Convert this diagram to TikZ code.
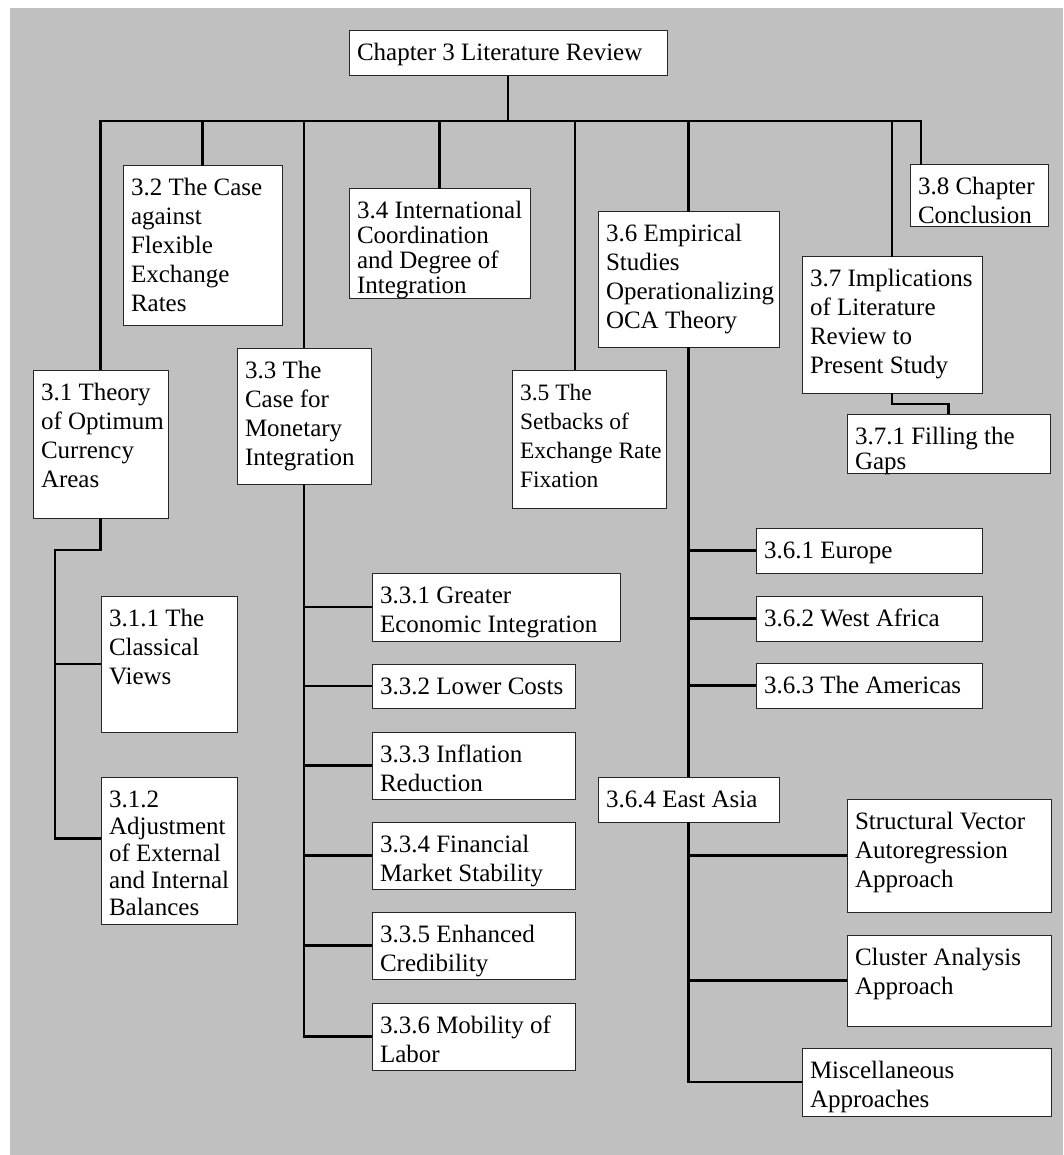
\documentclass[tikz,border=0pt]{standalone}
\usepackage{fontspec}
\setmainfont{Liberation Serif}
\definecolor{bggray}{HTML}{C0C0C0}
\tikzset{
  boxst/.style={draw=black!85, line width=1pt, fill=white, inner sep=0pt, outer sep=0pt,
    anchor=north west, font=\fontsize{25}{29}\selectfont},
  conn/.style={draw=black, line width=2.3pt, line join=miter}
}
\newcommand\bx[7][29]{\node[boxst] (#2) at (#3,#4) {\parbox[t][\dimexpr #6pt-#4pt\relax][t]{\dimexpr #5pt-#3pt\relax}{\fontsize{25}{#1}\selectfont\raggedright\leftskip=8pt\rightskip=-80pt plus 1fil\hyphenpenalty=10000\rule{0pt}{30pt}#7}};}
\begin{document}
\begin{tikzpicture}[x=1pt,y=-1pt]
\useasboundingbox (0,0) rectangle (1063,1155);
\fill[bggray] (10,8) rectangle (1063,1155);
% boxes
\bx{root}{349}{31}{667}{76}{Chapter 3 Literature Review}
\bx{b31}{33}{370}{168}{518}{3.1 Theory\\of Optimum\\Currency\\Areas}
\bx{b32}{123}{166}{282}{325}{3.2 The Case\\against\\Flexible\\Exchange\\Rates}
\bx{b33}{237}{348}{371}{484}{3.3 The\\Case for\\Monetary\\Integration}
\bx[25]{b34}{349}{189}{530}{298}{3.4 International\\Coordination\\and Degree of\\Integration}
\bx{b35}{512}{370}{666}{508}{\fontsize{23.5}{29}\selectfont 3.5 The\\Setbacks of\\Exchange Rate\\Fixation}
\bx{b36}{598}{212}{779}{347}{3.6 Empirical\\Studies\\Operationalizing\\OCA Theory}
\bx{b37}{802}{257}{982}{393}{3.7 Implications\\of Literature\\Review to\\Present Study}
\bx[25]{b371}{847}{414}{1050}{473}{3.7.1 Filling the\\Gaps}
\bx{b38}{910}{165}{1048}{227}{3.8 Chapter\\Conclusion}
\bx{b311}{101}{596}{237}{732}{3.1.1 The\\Classical\\Views}
\bx[27]{b312}{101}{777}{237}{924}{3.1.2\\Adjustment\\of External\\and Internal\\Balances}
\bx{b331}{372}{573}{620}{641}{3.3.1 Greater\\Economic Integration}
\bx{b332}{372}{664}{575}{708}{3.3.2 Lower Costs}
\bx{b333}{372}{732}{575}{799}{3.3.3 Inflation\\Reduction}
\bx{b334}{372}{822}{575}{889}{3.3.4 Financial\\Market Stability}
\bx{b335}{372}{912}{575}{979}{3.3.5 Enhanced\\Credibility}
\bx{b336}{372}{1003}{575}{1070}{3.3.6 Mobility of\\Labor}
\bx{b361}{756}{528}{982}{573}{3.6.1 Europe}
\bx{b362}{756}{596}{982}{641}{3.6.2 West Africa}
\bx{b363}{756}{663}{982}{708}{3.6.3 The Americas}
\bx{b364}{598}{777}{779}{822}{3.6.4 East Asia}
\bx{svar}{847}{799}{1051}{912}{Structural Vector\\Autoregression\\Approach}
\bx{clus}{847}{935}{1051}{1026}{Cluster Analysis\\Approach}
\bx{misc}{802}{1048}{1051}{1116}{Miscellaneous\\Approaches}
% coordinates
\coordinate (bus) at (508,121);
\coordinate (d35) at ([xshift=63pt]b35.north west);
\coordinate (d38) at ([xshift=11pt]b38.north west);
\coordinate (j31) at (55,550);
% top level connectors
\draw[conn] (root.south) -- (bus);
\draw[conn] (b31.north) |- (bus) -| (d38);
\foreach \n in {b32,b33,b34,b36,b37}{\draw[conn] (bus -| \n.north) -- (\n.north);}
\draw[conn] (bus -| d35) -- (d35);
% 3.1 subtree
\draw[conn] (b31.south) |- (j31) |- ([yshift=12pt]b312.west);
\draw[conn] (j31 |- b311.west) -- (b311.west);
% 3.3 subtree
\draw[conn] (b33.south) |- (b336.west);
\foreach \n in {b331,b332,b333,b334,b335}{\draw[conn] (\n.west -| b33.south) -- (\n.west);}
% 3.6 subtree
\draw[conn] (b36.south) -- (b364.north);
\foreach \n in {b361,b362,b363}{\draw[conn] (\n.west -| b36.south) -- (\n.west);}
\draw[conn] (b364.south) |- (misc.west);
\foreach \n in {svar,clus}{\draw[conn] (\n.west -| b364.south) -- (\n.west);}
% 3.7 subtree
\draw[conn] (b37.south) -- ++(0,11) -| (b371.north);
\end{tikzpicture}
\end{document}
